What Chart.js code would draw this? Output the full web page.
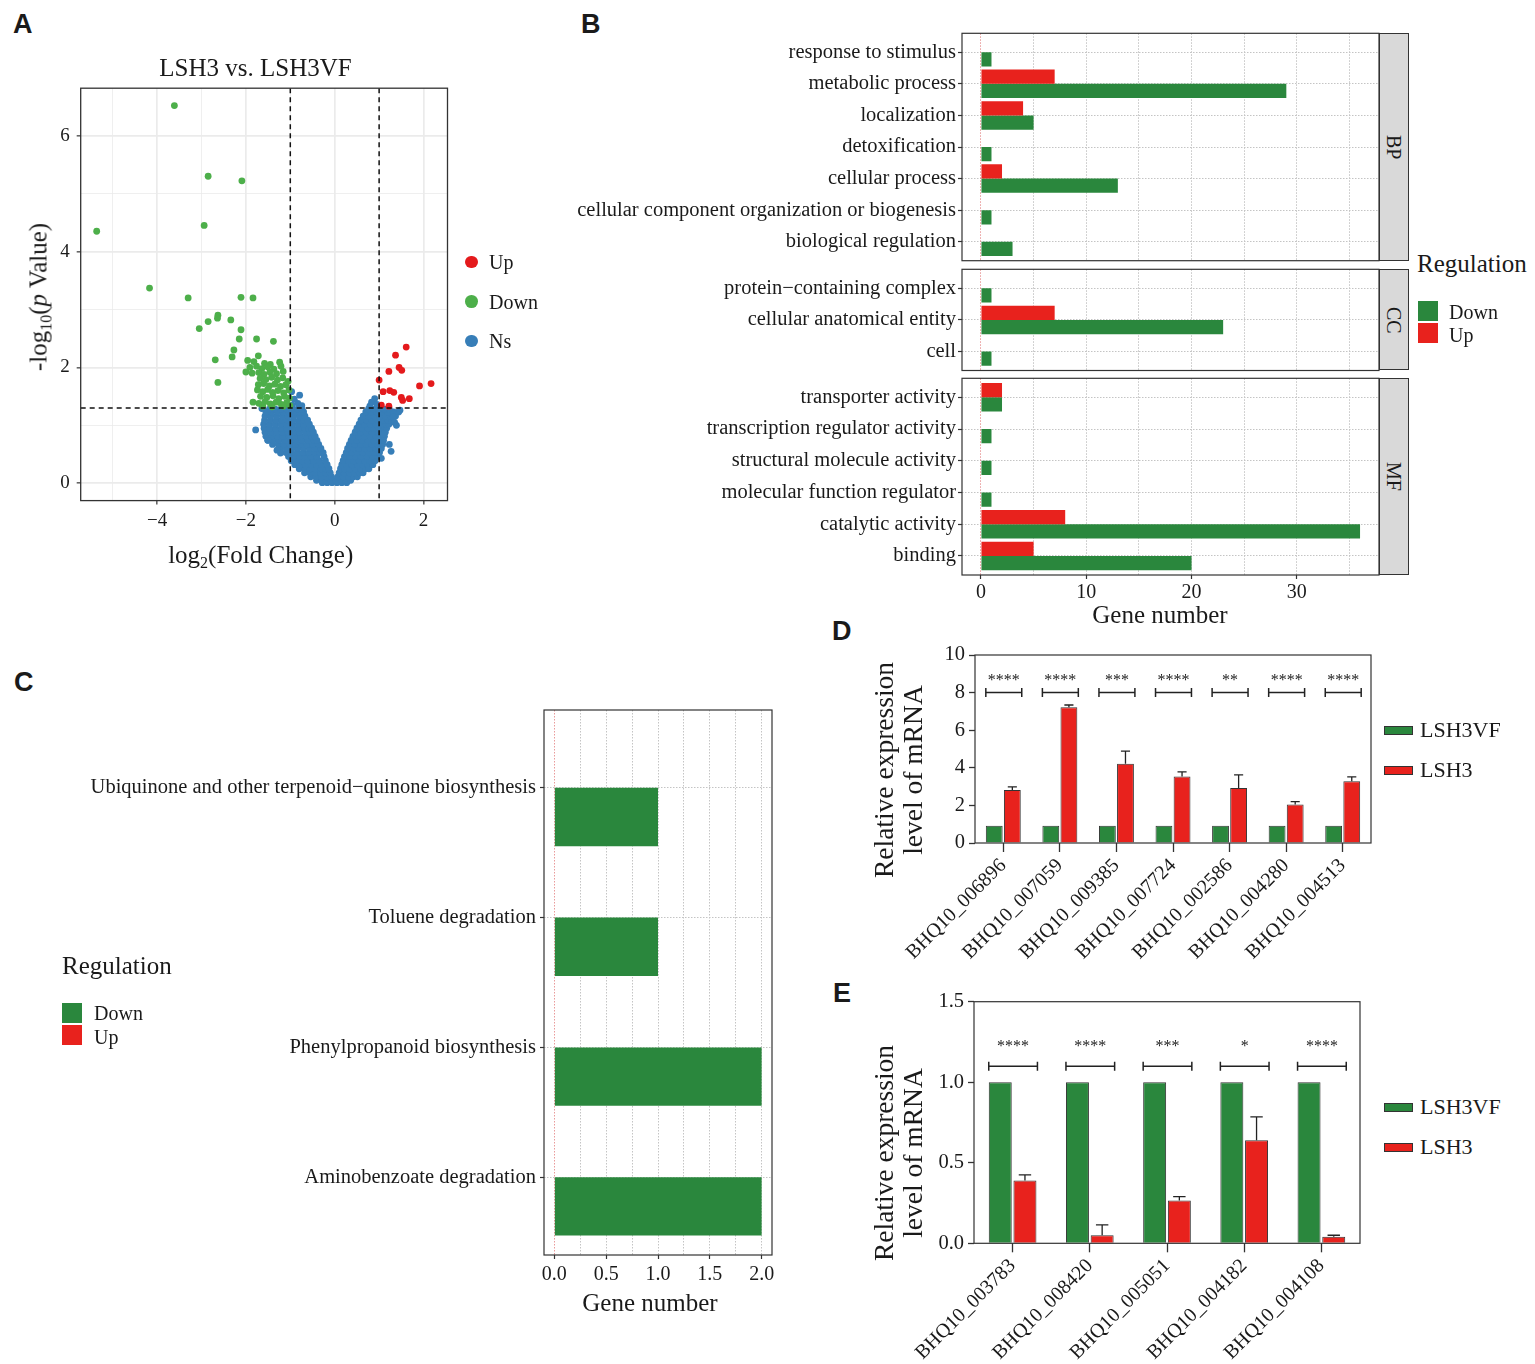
<!DOCTYPE html>
<html>
<head>
<meta charset="utf-8">
<title>LSH3 vs LSH3VF</title>
<script src="https://cdn.jsdelivr.net/npm/chart.js@4.4.1/dist/chart.umd.min.js"></script>
<style>
  html, body { margin:0; padding:0; background:#fff; }
  #page { position:relative; width:1535px; height:1364px; overflow:hidden;
          font-family:'Liberation Serif','Times New Roman',serif; color:#1a1a1a; }
  #page canvas, .t, .bx { position:absolute; }
  .t { white-space:nowrap; }
  .t sub { font-size:0.64em; vertical-align:-0.32em; line-height:0; }
  .tag { position:absolute; font:bold 27px 'Liberation Sans',Arial,sans-serif; line-height:27px; }
  .strip { position:absolute; background:#D9D9D9; border:1.2px solid #333; box-sizing:border-box;
           display:flex; align-items:center; justify-content:center; }
  .strip span { writing-mode:vertical-rl; font-size:20px; line-height:20px; }
  .bx { box-sizing:border-box; }
</style>
</head>
<body>
<div id="page">
  <div class="tag" style="left:13px;top:11px">A</div>
  <div class="tag" style="left:581px;top:11px">B</div>
  <div class="tag" style="left:14px;top:669px">C</div>
  <div class="tag" style="left:832px;top:618px">D</div>
  <div class="tag" style="left:833px;top:980px">E</div>
</div>
<script>
// ---- A: volcano, points are [log2 fold change, -log10 p]
const upPts = [[1.61,2.35],[1.37,2.21],[1.45,2.00],[1.51,1.95],[1.22,1.93],[1.00,1.78],[1.91,1.68],
  [2.17,1.72],[1.09,1.58],[1.24,1.60],[1.33,1.57],[1.50,1.48],[1.53,1.43],[1.68,1.46],[1.05,1.35],[1.22,1.33]];
const downPts = [[-3.61,6.52],[-2.85,5.30],[-2.09,5.22],[-2.94,4.45],[-5.36,4.35],[-4.17,3.37],[-3.30,3.20],
  [-2.11,3.21],[-1.84,3.20],[-2.63,2.90],[-2.64,2.85],[-2.85,2.79],[-2.34,2.82],[-3.05,2.67],[-2.11,2.65],
  [-2.15,2.49],[-1.76,2.49],[-1.38,2.45],[-2.27,2.30],[-2.31,2.18],[-2.69,2.13],[-1.72,2.20],[-2.63,1.74],
  [-1.96,2.12],[-1.82,2.10],[-1.58,2.07],[-1.45,2.05],[-1.24,2.09],
  [-1.91,2.00],[-1.76,2.02],[-1.64,1.98],[-1.51,2.01],[-1.37,1.97],[-1.21,2.02],
  [-2.00,1.92],[-1.86,1.90],[-1.71,1.91],[-1.59,1.88],[-1.46,1.92],[-1.31,1.89],[-1.16,1.93],
  [-1.68,1.81],[-1.55,1.79],[-1.42,1.83],[-1.29,1.78],[-1.17,1.82],[-1.05,1.76],
  [-1.72,1.70],[-1.60,1.72],[-1.47,1.68],[-1.35,1.71],[-1.22,1.67],[-1.10,1.70],
  [-1.74,1.61],[-1.62,1.58],[-1.51,1.62],[-1.40,1.57],[-1.28,1.60],[-1.15,1.56],[-1.03,1.61],
  [-1.67,1.50],[-1.53,1.48],[-1.39,1.51],[-1.26,1.46],[-1.13,1.50],[-1.02,1.47],
  [-1.84,1.40],[-1.71,1.38],[-1.57,1.41],[-1.45,1.37],[-1.32,1.40],[-1.20,1.36],[-1.08,1.39],
  [-1.62,1.33],[-1.41,1.32],[-1.16,1.33],[-1.01,1.34]];
// the dense Ns cloud, read row by row: [-log10 p, [log2 fold changes]]
const nsRows = [
  [0.01, [-0.28,-0.17,-0.06,0.05,0.16,0.27]],
  [0.05, [-0.41,-0.30,-0.19,-0.08,0.03,0.14,0.25,0.36]],
  [0.11, [-0.54,-0.42,-0.30,-0.18,-0.07,0.07,0.19,0.31,0.42,0.51]],
  [0.18, [-0.68,-0.56,-0.44,-0.32,-0.20,-0.10,0.10,0.21,0.33,0.45,0.56,0.64]],
  [0.25, [-0.80,-0.68,-0.56,-0.44,-0.31,-0.20,-0.13,0.13,0.22,0.34,0.46,0.58,0.69,0.77]],
  [0.32, [-0.90,-0.78,-0.66,-0.53,-0.41,-0.29,-0.17,0.16,0.27,0.39,0.51,0.63,0.75,0.86]],
  [0.39, [-0.98,-0.86,-0.73,-0.61,-0.48,-0.35,-0.21,0.19,0.31,0.43,0.55,0.67,0.79,0.91]],
  [0.46, [-1.04,-0.92,-0.79,-0.66,-0.53,-0.40,-0.24,0.22,0.34,0.47,0.59,0.72,0.85,0.97]],
  [0.53, [-1.10,-0.97,-0.84,-0.71,-0.58,-0.45,-0.33,-0.26,0.26,0.38,0.51,0.63,0.76,0.89,1.01]],
  [0.60, [-1.22,-1.09,-0.96,-0.83,-0.70,-0.57,-0.44,-0.31,0.29,0.42,0.55,0.67,0.80,0.93,1.05]],
  [0.67, [-1.40,-1.27,-1.14,-1.01,-0.88,-0.75,-0.62,-0.49,-0.36,0.33,0.46,0.58,0.71,0.84,0.97,1.08]],
  [0.74, [-1.51,-1.38,-1.25,-1.12,-0.99,-0.86,-0.73,-0.60,-0.47,-0.40,0.37,0.50,0.62,0.75,0.88,1.01,1.10]],
  [0.81, [-1.55,-1.42,-1.29,-1.16,-1.03,-0.90,-0.77,-0.64,-0.52,-0.44,0.41,0.54,0.67,0.80,0.93,1.05,1.12]],
  [0.88, [-1.57,-1.44,-1.31,-1.18,-1.05,-0.92,-0.79,-0.66,-0.56,-0.48,0.46,0.58,0.71,0.84,0.97,1.08,1.14]],
  [0.95, [-1.59,-1.46,-1.33,-1.20,-1.07,-0.94,-0.81,-0.68,-0.59,-0.52,0.50,0.62,0.75,0.88,1.00,1.12,1.17]],
  [1.02, [-1.60,-1.47,-1.34,-1.21,-1.08,-0.95,-0.82,-0.70,-0.57,0.55,0.67,0.80,0.93,1.05,1.16,1.22]],
  [1.09, [-1.58,-1.45,-1.32,-1.19,-1.06,-0.93,-0.80,-0.69,-0.61,0.59,0.71,0.84,0.97,1.09,1.20,1.29]],
  [1.16, [-1.57,-1.44,-1.31,-1.18,-1.05,-0.92,-0.79,-0.67,0.64,0.76,0.89,1.02,1.14,1.26,1.37]],
  [1.23, [-1.55,-1.42,-1.29,-1.16,-1.03,-0.90,-0.78,-0.70,0.70,0.82,0.95,1.07,1.20,1.32,1.44]],
  [1.28, [-1.47,-1.34,-1.21,-1.08,-0.96,-0.84,-0.74,0.76,0.88,1.00,1.12,1.23]]
];
const nsExtra = [[-0.97,1.58],[-0.79,1.52],[-0.91,1.45],[-0.83,1.38],[-0.74,1.34],[-0.96,1.35],
  [0.83,1.40],[0.90,1.46],[0.95,1.36],[0.79,1.33],[-1.78,0.92],[-1.50,0.74],[-1.64,1.29],[-1.22,0.52],
  [-1.30,0.57],[1.11,0.85],[1.23,0.67],[1.27,0.55],[1.05,0.43],[1.35,1.05],[1.47,1.26],[1.39,1.00],[1.32,1.14]];
const fcCut = [-1, 1];
const pCut = [1.3];
const volcXTicks = [-4, -2, 0, 2];
const volcXGrid = [-5, -4, -3, -2, -1, 0, 1, 2];
const volcYTicks = [0, 2, 4, 6];
const volcYGrid = [0, 1, 2, 3, 4, 5, 6];

// ---- B: GO terms (gene number)
const bpTerms = ['response to stimulus', 'metabolic process', 'localization', 'detoxification',
  'cellular process', 'cellular component organization or biogenesis', 'biological regulation'];
const bpUp   = [null, 7, 4, null, 2, null, null];
const bpDown = [1, 29, 5, 1, 13, 1, 3];
const ccTerms = ['protein\u2212containing complex', 'cellular anatomical entity', 'cell'];
const ccUp   = [null, 7, null];
const ccDown = [1, 23, 1];
const mfTerms = ['transporter activity', 'transcription regulator activity', 'structural molecule activity',
  'molecular function regulator', 'catalytic activity', 'binding'];
const mfUp   = [2, null, null, null, 8, 5];
const mfDown = [2, 1, 1, 1, 36, 20];
const goTicks = [0, 10, 20, 30];
const goGrid = [0, 5, 10, 15, 20, 25, 30, 35];

// ---- C: KEGG
const keggTerms = ['Ubiquinone and other terpenoid\u2212quinone biosynthesis', 'Toluene degradation',
  'Phenylpropanoid biosynthesis', 'Aminobenzoate degradation'];
const keggUp   = [null, null, null, null];
const keggDown = [1, 1, 2, 2];
const keggTicks = [0, 0.5, 1, 1.5, 2];
const keggGrid = [0, 0.25, 0.5, 0.75, 1, 1.25, 1.5, 1.75, 2];

// ---- D: qPCR, up in LSH3
const genesD = ['BHQ10_006896', 'BHQ10_007059', 'BHQ10_009385', 'BHQ10_007724', 'BHQ10_002586', 'BHQ10_004280', 'BHQ10_004513'];
const vfD   = [0.92, 0.92, 0.92, 0.92, 0.92, 0.92, 0.92];
const lsh3D = [2.82, 7.22, 4.22, 3.54, 2.92, 2.05, 3.28];
const errD  = [0.17, 0.12, 0.67, 0.24, 0.70, 0.15, 0.24];
const starsD = ['****', '****', '***', '****', '**', '****', '****'];

// ---- E: qPCR, down in LSH3
const genesE = ['BHQ10_003783', 'BHQ10_008420', 'BHQ10_005051', 'BHQ10_004182', 'BHQ10_004108'];
const vfE   = [1, 1, 1, 1, 1];
const lsh3E = [0.39, 0.05, 0.265, 0.64, 0.04];
const errE  = [0.035, 0.065, 0.025, 0.145, 0.01];
const starsE = ['****', '****', '***', '*', '****'];

const RED = '#E8221D', GREEN = '#2A873D';
const PT_UP = '#E41A1C', PT_DOWN = '#4DAF4A', PT_NS = '#377EB8';
const INK = '#1a1a1a';

Chart.defaults.font.family = "'Liberation Serif','Times New Roman',serif";
Chart.defaults.color = INK;
Chart.defaults.animation = false;
Chart.defaults.events = [];
Chart.defaults.plugins.legend.display = false;
Chart.defaults.plugins.tooltip.enabled = false;

// box round the plot area
const frame = {
  id: 'frame',
  afterDraw(chart, args, o) {
    if (!o || !o.color) return;
    const a = chart.chartArea, c = chart.ctx;
    c.save();
    c.strokeStyle = o.color; c.lineWidth = o.width || 1;
    c.strokeRect(a.left, a.top, a.right - a.left, a.bottom - a.top);
    c.restore();
  }
};
// dashed threshold lines of the volcano
const refLines = {
  id: 'refLines',
  afterDatasetsDraw(chart, args, o) {
    if (!o || (!o.x && !o.y)) return;
    const a = chart.chartArea, c = chart.ctx, s = chart.scales;
    c.save();
    c.strokeStyle = '#111'; c.lineWidth = 1.5; c.setLineDash([5, 4]);
    (o.x || []).forEach(v => {
      const p = s.x.getPixelForValue(v);
      c.beginPath(); c.moveTo(p, a.top); c.lineTo(p, a.bottom); c.stroke();
    });
    (o.y || []).forEach(v => {
      const p = s.y.getPixelForValue(v);
      c.beginPath(); c.moveTo(a.left, p); c.lineTo(a.right, p); c.stroke();
    });
    c.restore();
  }
};
// upper error bars
const errBars = {
  id: 'errBars',
  afterDatasetsDraw(chart, args, o) {
    if (!o || !o.sets) return;
    const y = chart.scales.y, c = chart.ctx;
    c.save();
    c.strokeStyle = '#222'; c.lineWidth = 1.3;
    o.sets.forEach((errs, di) => {
      if (!errs) return;
      const vals = chart.data.datasets[di].data;
      chart.getDatasetMeta(di).data.forEach((bar, i) => {
        const top = y.getPixelForValue(vals[i] + errs[i]);
        const cap = bar.width * 0.27;
        c.beginPath();
        c.moveTo(bar.x, bar.y); c.lineTo(bar.x, top);
        c.moveTo(bar.x - cap, top); c.lineTo(bar.x + cap, top);
        c.stroke();
      });
    });
    c.restore();
  }
};
// significance brackets with stars
const sigMarks = {
  id: 'sigMarks',
  afterDatasetsDraw(chart, args, o) {
    if (!o || !o.marks) return;
    const y = chart.scales.y, c = chart.ctx;
    const m0 = chart.getDatasetMeta(0).data, m1 = chart.getDatasetMeta(1).data;
    const py = y.getPixelForValue(o.at), ty = y.getPixelForValue(o.textAt);
    c.save();
    c.strokeStyle = '#222'; c.fillStyle = '#222'; c.lineWidth = 1.5;
    c.font = "16px 'Liberation Serif','Times New Roman',serif";
    c.textAlign = 'center'; c.textBaseline = 'alphabetic';
    o.marks.forEach((s, i) => {
      const l = m0[i].x - m0[i].width / 2, r = m1[i].x + m1[i].width / 2 + 1;
      c.beginPath();
      c.moveTo(l, py); c.lineTo(r, py);
      c.moveTo(l, py - 4.5); c.lineTo(l, py + 4.5);
      c.moveTo(r, py - 4.5); c.lineTo(r, py + 4.5);
      c.stroke();
      c.fillText(s, (l + r) / 2, ty);
    });
    c.restore();
  }
};
Chart.register(frame, refLines, errBars, sigMarks);

// ---------- page helpers ----------
const page = document.getElementById('page');
const px = v => v + 'px';
function canvasAt(left, top, w, h) {
  const cv = document.createElement('canvas');
  cv.width = w; cv.height = h;
  Object.assign(cv.style, { left: px(left), top: px(top), width: px(w), height: px(h) });
  page.appendChild(cv);
  return cv;
}
function text(html, x, cy, size, align) {
  const d = document.createElement('div');
  d.className = 't';
  d.innerHTML = html;
  Object.assign(d.style, { fontSize: px(size), lineHeight: px(size), left: px(x), top: px(cy - size / 2) });
  if (align === 'center') d.style.transform = 'translateX(-50%)';
  if (align === 'right') d.style.transform = 'translateX(-100%)';
  page.appendChild(d);
}
function vtext(html, cx, cy, size, lh) {
  const d = document.createElement('div');
  d.className = 't';
  d.innerHTML = html;
  Object.assign(d.style, { fontSize: px(size), lineHeight: px(lh || size), textAlign: 'center',
    left: px(cx), top: px(cy), transform: 'translate(-50%,-50%) rotate(-90deg)' });
  page.appendChild(d);
}
function rect(x, y, w, h, fill, border) {
  const d = document.createElement('div');
  d.className = 'bx';
  Object.assign(d.style, { left: px(x), top: px(y), width: px(w), height: px(h), background: fill,
    border: border ? '1px solid ' + border : 'none' });
  if (border === 'round') { d.style.border = 'none'; d.style.borderRadius = '50%'; }
  page.appendChild(d);
}
function strip(label, x, y, w, h) {
  const d = document.createElement('div');
  d.className = 'strip';
  Object.assign(d.style, { left: px(x), top: px(y), width: px(w), height: px(h) });
  d.innerHTML = '<span>' + label + '</span>';
  page.appendChild(d);
}
const toXY = arr => arr.map(([x, y]) => ({ x, y }));
const minus = v => v < 0 ? '\u2212' + Math.abs(v) : String(v);
const isIn = (list, c) => !!(c.tick && list.includes(c.tick.value));
// pin an axis box to a fixed size and stop its end labels from shrinking the plot area
const fixW = w => s => { s.width = w; s.paddingTop = 0; s.paddingBottom = 0; };
const fixH = h => s => { s.height = h; s.paddingLeft = 0; s.paddingRight = 0; };

// ---------- A ----------
const nsPts = nsRows.flatMap(([y, xs]) => xs.map(x => [x, y])).concat(nsExtra);
function volcAxis(min, max, grid, major, fit, pad) {
  return {
    type: 'linear', min, max, offset: false, border: { display: false },
    afterBuildTicks: s => { s.ticks = grid.map(value => ({ value })); },
    afterFit: fit,
    grid: { color: '#EBEBEB', lineWidth: c => isIn(major, c) ? 1.7 : 0.8, tickLength: 4,
            tickWidth: 1.2, tickColor: c => isIn(major, c) ? '#333' : 'rgba(0,0,0,0)' },
    ticks: { autoSkip: false, maxRotation: 0, padding: pad, color: INK, font: { size: 19 },
             callback: v => major.includes(v) ? minus(v) : '' }
  };
}
new Chart(canvasAt(0, 0, 470, 545), {
  type: 'scatter',
  data: { datasets: [
    { label: 'Up', data: toXY(upPts), backgroundColor: PT_UP, pointRadius: 3.4, pointBorderWidth: 0 },
    { label: 'Down', data: toXY(downPts), backgroundColor: PT_DOWN, pointRadius: 3.4, pointBorderWidth: 0 },
    { label: 'Ns', data: toXY(nsPts), backgroundColor: PT_NS, pointRadius: 3.4, pointBorderWidth: 0 }
  ]},
  options: {
    responsive: false,
    layout: { padding: { top: 88.2, right: 22.5 } },
    plugins: { frame: { color: '#333', width: 1.3 }, refLines: { x: fcCut, y: pCut } },
    scales: {
      x: volcAxis(-5.72, 2.54, volcXGrid, volcXTicks, fixH(44.4), 5),
      y: volcAxis(-0.30, 6.82, volcYGrid, volcYTicks, fixW(80.7), 7)
    }
  }
});
text('LSH3 vs. LSH3VF', 255.5, 67.5, 25, 'center');
vtext('-log<sub>10</sub>(<i>p</i> Value)', 38.4, 297, 25);
text('log<sub>2</sub>(Fold Change)', 260.7, 554.6, 25, 'center');
[['Up', PT_UP, 262], ['Down', PT_DOWN, 301.6], ['Ns', PT_NS, 341]].forEach(([name, col, cy]) => {
  rect(471.4 - 6.4, cy - 6.4, 12.8, 12.8, col, 'round');
  text(name, 489, cy, 20);
});

// ---------- B and C ----------
function goPanel(cv, terms, up, down, o) {
  const idx = terms.map((_, i) => i);
  return new Chart(cv, {
    type: 'bar',
    data: { datasets: [
      { label: 'Up', data: idx.map(i => ({ x: up[i], y: i })), backgroundColor: RED },
      { label: 'Down', data: idx.map(i => ({ x: down[i], y: i })), backgroundColor: GREEN }
    ]},
    options: {
      responsive: false,
      indexAxis: 'y',
      datasets: { bar: { categoryPercentage: 0.9, barPercentage: 1, borderWidth: 0 } },
      layout: { padding: { top: o.padTop, right: o.padRight } },
      plugins: { frame: { color: '#333', width: 1.2 } },
      scales: {
        y: {
          type: 'linear', reverse: true, offset: false, min: -0.6, max: terms.length - 0.4,
          border: { display: false, dash: [1.5, 1.5] },
          afterBuildTicks: s => { s.ticks = idx.map(value => ({ value })); },
          afterFit: fixW(o.left),
          grid: { offset: false, color: '#C4C4C4', lineWidth: 1, tickLength: 4, tickWidth: 1.2, tickColor: '#333' },
          ticks: { autoSkip: false, padding: o.yPad, color: INK, font: { size: 20.5 }, callback: v => terms[v] }
        },
        x: {
          type: 'linear', offset: false, min: o.xmin, max: o.xmax,
          border: { display: false, dash: [1.5, 1.5] },
          afterBuildTicks: s => { s.ticks = o.grid.map(value => ({ value })); },
          afterFit: fixH(o.bottom),
          grid: { offset: false, color: c => (c.tick && c.tick.value === 0) ? 'rgba(225,120,120,0.75)' : '#C4C4C4',
                  lineWidth: 1, drawTicks: o.showX, tickLength: 4, tickWidth: 1.2,
                  tickColor: c => isIn(o.ticks, c) ? '#333' : 'rgba(0,0,0,0)' },
          ticks: { display: o.showX, autoSkip: false, maxRotation: 0, padding: o.xPad, color: INK,
                   font: { size: 20 }, callback: v => o.ticks.includes(v) ? o.fmt(v) : '' }
        }
      }
    }
  });
}
const goBase = { left: 397, padRight: 11, xmin: -1.8, xmax: 37.8, grid: goGrid, ticks: goTicks,
                 fmt: v => String(v), yPad: 2, xPad: 2 };
goPanel(canvasAt(565, 28, 825, 237), bpTerms, bpUp, bpDown, Object.assign({}, goBase, { padTop: 5.3, bottom: 4.3, showX: false }));
goPanel(canvasAt(565, 264, 825, 110), ccTerms, ccUp, ccDown, Object.assign({}, goBase, { padTop: 5.3, bottom: 3.5, showX: false }));
goPanel(canvasAt(565, 373, 825, 230), mfTerms, mfUp, mfDown, Object.assign({}, goBase, { padTop: 5.3, bottom: 28, showX: true }));
strip('BP', 1378.5, 33.3, 30, 227.4);
strip('CC', 1378.5, 269.3, 30, 101.2);
strip('MF', 1378.5, 378.3, 30, 196.7);
text('Gene number', 1160, 614, 25, 'center');
text('Regulation', 1417, 263, 25);
rect(1418, 301, 20, 20, GREEN);
rect(1418, 322.5, 20, 20, RED);
text('Down', 1449, 312, 20);
text('Up', 1449, 335, 20);

goPanel(canvasAt(40, 700, 745, 600), keggTerms, keggUp, keggDown,
  { left: 504, padTop: 10, padRight: 13, bottom: 45, xmin: -0.1, xmax: 2.1, grid: keggGrid, ticks: keggTicks,
    fmt: v => v.toFixed(1), yPad: 4, xPad: 4, showX: true });
text('Gene number', 650, 1302, 25, 'center');
text('Regulation', 62, 965, 25);
rect(62, 1003, 20, 20, GREEN);
rect(62, 1024.5, 20, 20, RED);
text('Down', 94, 1013, 20);
text('Up', 94, 1037, 20);

// ---------- D and E ----------
function qpcrPanel(cv, genes, vf, lsh3, err, stars, o) {
  return new Chart(cv, {
    type: 'bar',
    data: { labels: genes, datasets: [
      { label: 'LSH3VF', data: vf, backgroundColor: GREEN },
      { label: 'LSH3', data: lsh3, backgroundColor: RED }
    ]},
    options: {
      responsive: false,
      datasets: { bar: { categoryPercentage: 0.64, barPercentage: 0.93, borderWidth: 1, borderColor: '#333' } },
      layout: { padding: { top: o.padTop, right: o.padRight } },
      plugins: {
        frame: { color: '#333', width: 1.2 },
        errBars: { sets: [null, err] },
        sigMarks: { marks: stars, at: o.bracket, textAt: o.starAt }
      },
      scales: {
        x: {
          type: 'category', offset: true, border: { display: false },
          afterFit: fixH(o.bottom),
          grid: { offset: false, drawOnChartArea: false, tickLength: 9, tickWidth: 1.3, tickColor: '#333' },
          ticks: { autoSkip: false, minRotation: 45, maxRotation: 45, padding: 2, color: INK, font: { size: 20 } }
        },
        y: {
          min: 0, max: o.ymax, border: { display: false },
          afterFit: fixW(o.left),
          grid: { drawOnChartArea: false, tickLength: 6, tickWidth: 1.3, tickColor: '#333' },
          ticks: { stepSize: o.step, padding: 4, color: INK, font: { size: 20.5 }, callback: o.fmt }
        }
      }
    }
  });
}
qpcrPanel(canvasAt(860, 640, 520, 340), genesD, vfD, lsh3D, errD, starsD,
  { left: 115, padTop: 15, padRight: 9, bottom: 137, ymax: 10, step: 2, fmt: v => String(v),
    bracket: 8, starAt: 8.43 });
qpcrPanel(canvasAt(860, 990, 510, 374), genesE, vfE, lsh3E, errE, starsE,
  { left: 114, padTop: 11.7, padRight: 10, bottom: 120.7, ymax: 1.5, step: 0.5, fmt: v => v.toFixed(1),
    bracket: 1.1, starAt: 1.196 });

vtext('Relative expression<br>level of mRNA', 897.5, 770, 27.5, 29);
vtext('Relative expression<br>level of mRNA', 897.5, 1153, 27.5, 29);
[[730, 770], [1107, 1147]].forEach(([c1, c2]) => {
  rect(1384, c1 - 4.5, 29, 9, GREEN, '#333');
  rect(1384, c2 - 4.5, 29, 9, RED, '#333');
  text('LSH3VF', 1420, c1, 22);
  text('LSH3', 1420, c2, 22);
});
</script>
</body>
</html>
